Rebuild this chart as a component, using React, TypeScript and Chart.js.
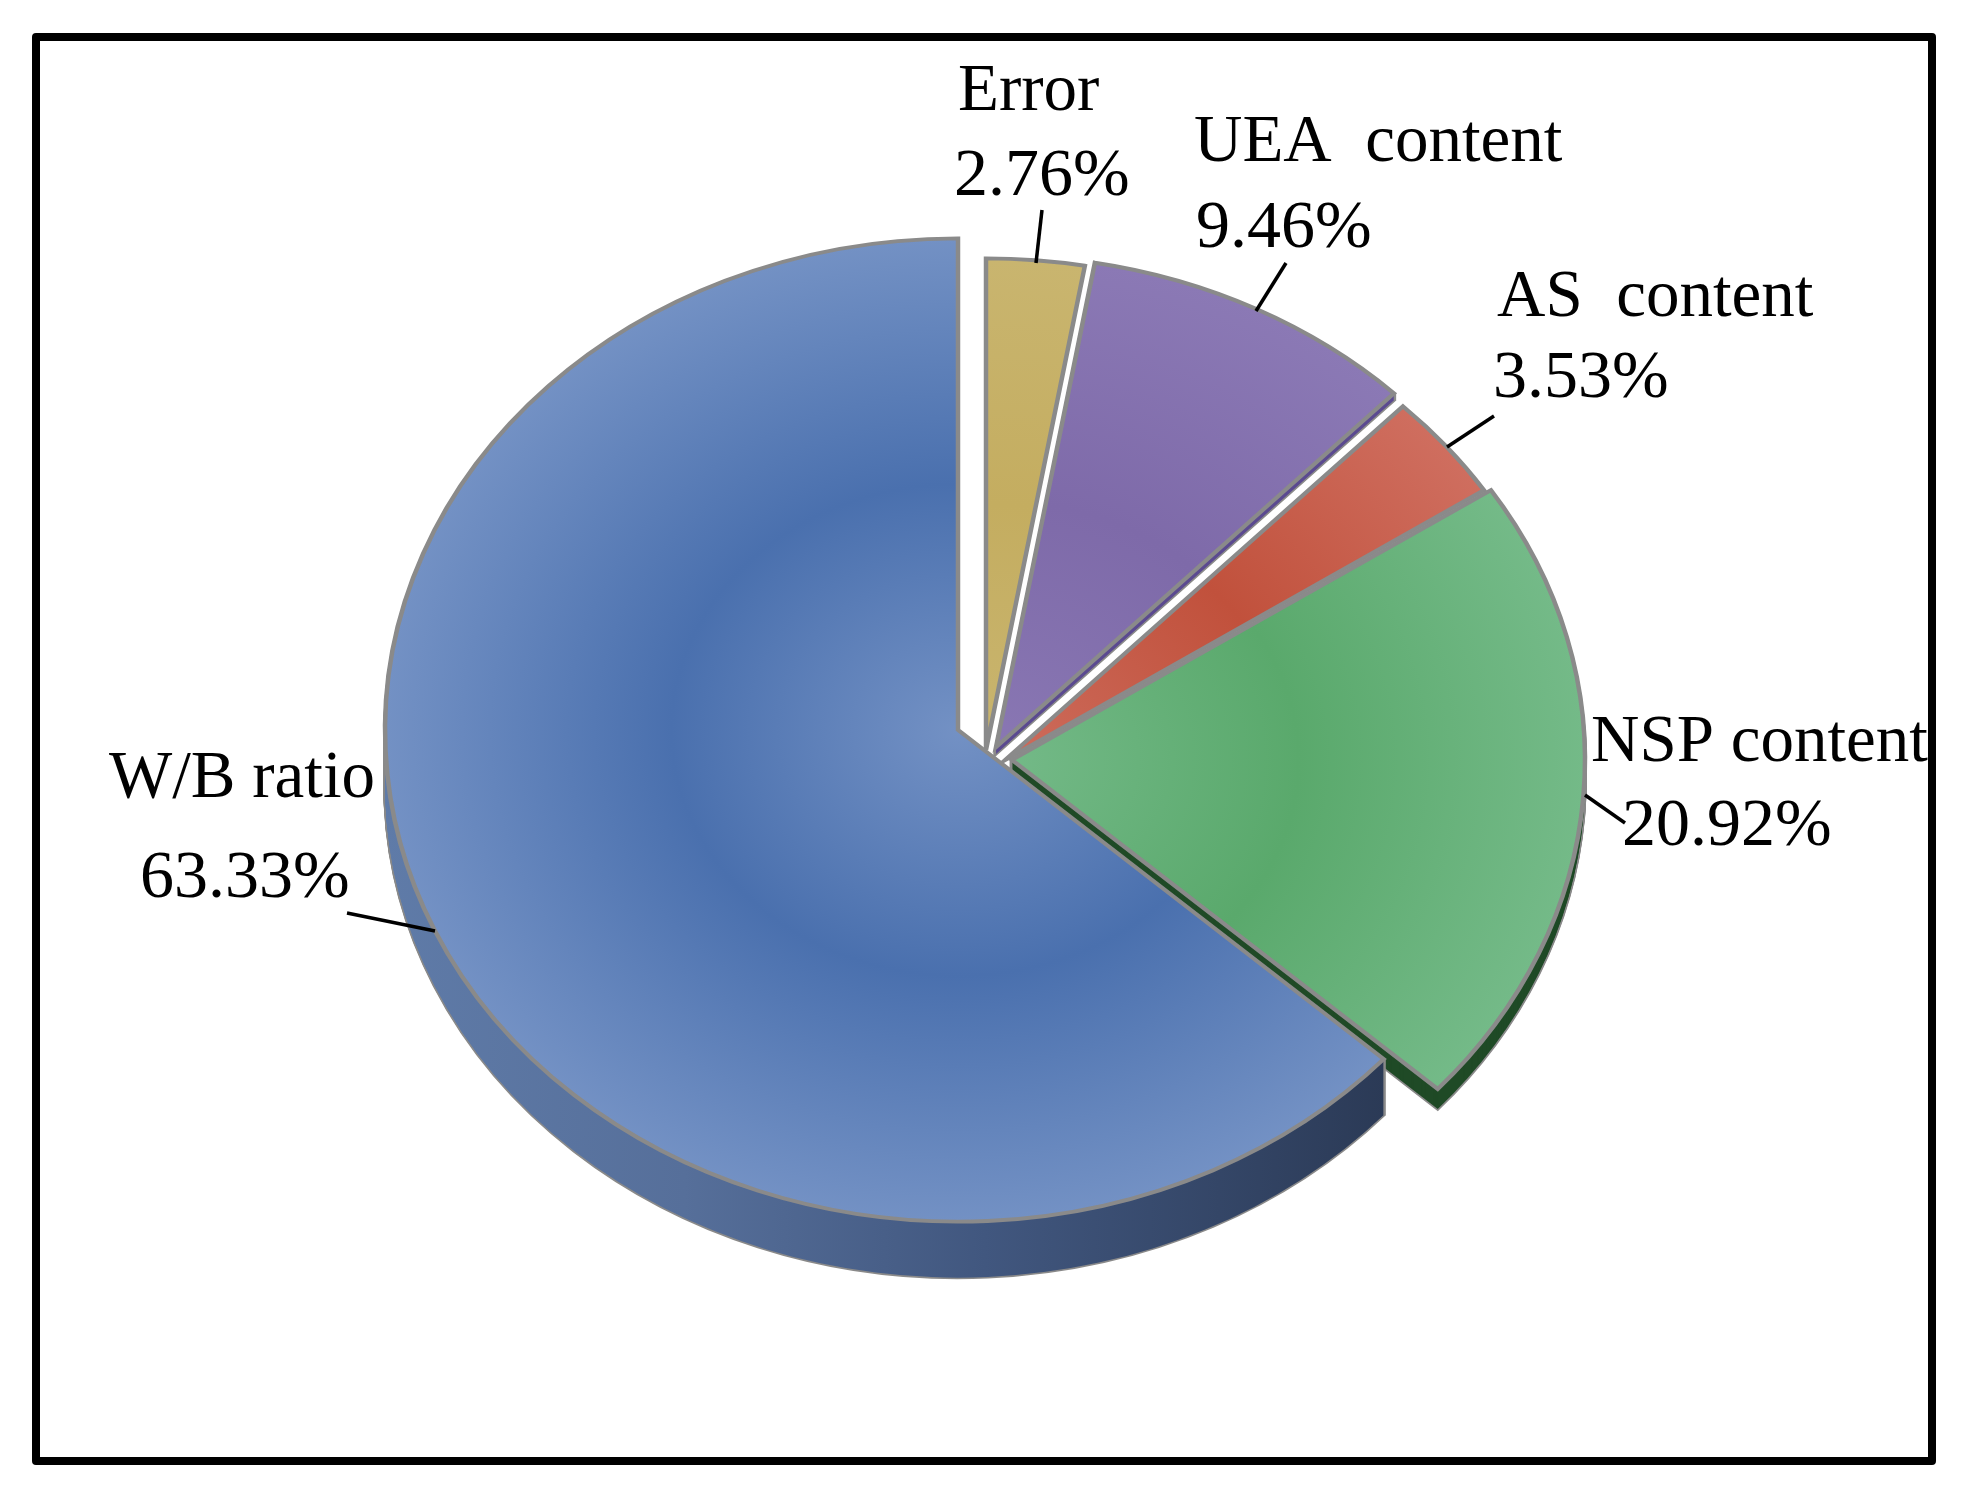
import React, { useEffect, useRef } from "react";
import { Chart, registerables } from "chart.js";

Chart.register(...registerables);

// Data (clockwise from 12 o'clock)
const categories = ["Error", "UEA  content", "AS  content", "NSP content", "W/B ratio"];
const percents = [2.76, 9.46, 3.53, 20.92, 63.33];

// Look of the tilted, exploded pie
const WIDTH = 1964;
const HEIGHT = 1499;
const RADIUS = 573;
const TILT = 0.858;
const apexX = [986, 996, 1005, 1012, 958];
const apexY = [750, 747, 760, 760, 730];
const depths = [0, 7, 0, 20, 56];
const sideColors = ["#9a8748", "#5b4a90", "#8e3a2c", "#1f4a26", "#41577f"];
const gradientStops = [
  ["#c9b56f", "#c4ad60", "#c9b56f"],
  ["#8977b3", "#7e6aa9", "#8b79b5"],
  ["#cd6c5c", "#c1513c", "#cf6e5f"],
  ["#73b987", "#5aa96c", "#74ba88"],
  ["#7391c4", "#4a70ae", "#7391c4"],
];
const BORDER = "#8a8a8a";

// Labels: [name x, name baseline, value x, value baseline]
const labelPlaces = [
  [958, 110, 954, 195],
  [1194, 161, 1196, 247],
  [1497, 316, 1493, 397],
  [1591, 761, 1622, 845],
  [109, 797, 140, 897],
];
const leaders = [
  [1042, 210, 1036, 263],
  [1286, 263, 1256, 311],
  [1494, 416, 1447, 447],
  [1585, 795, 1625, 823],
  [347, 913, 435, 931],
];

const placeArcs = (chart: any) => {
  const meta = chart.getDatasetMeta(0);
  meta.data.forEach((arc: any, i: number) => {
    arc.x = apexX[i];
    arc.y = apexY[i] / TILT;
    arc.outerRadius = RADIUS;
    arc.innerRadius = 0;
  });
  return meta;
};

const sideGradient = (ctx: CanvasRenderingContext2D, i: number) => {
  if (i !== 4) return sideColors[i];
  const g = ctx.createLinearGradient(384, 0, 1385, 0);
  g.addColorStop(0, "#5f7ba8");
  g.addColorStop(0.3, "#566f9a");
  g.addColorStop(0.6, "#41577f");
  g.addColorStop(1, "#2b3a56");
  return g;
};

const pie3d = {
  id: "pie3d",
  beforeDraw(chart: any) {
    const { ctx } = chart;
    ctx.save();
    ctx.fillStyle = "#ffffff";
    ctx.fillRect(0, 0, WIDTH, HEIGHT);
    ctx.restore();
  },
  beforeDatasetsDraw(chart: any) {
    const { ctx } = chart;
    const meta = placeArcs(chart);
    ctx.save();
    ctx.scale(1, TILT);
    meta.data.forEach((arc: any, i: number) => {
      const depth = depths[i];
      if (!depth) return;
      const base = arc.options;
      const side = sideGradient(ctx, i);
      const edged = Object.create(base);
      edged.backgroundColor = side;
      edged.borderColor = BORDER;
      edged.borderWidth = 3.5;
      const plain = Object.create(base);
      plain.backgroundColor = side;
      plain.borderColor = side;
      plain.borderWidth = 0;
      [edged, plain].forEach((opts) => {
        arc.options = opts;
        for (let k = depth; k >= 1; k--) {
          ctx.save();
          ctx.translate(0, k / TILT);
          arc.draw(ctx);
          ctx.restore();
        }
      });
      arc.options = base;
    });
    // the library draws the slice tops under this same squeeze
  },
  afterDatasetsDraw(chart: any) {
    const { ctx } = chart;
    ctx.restore();
    ctx.save();
    ctx.strokeStyle = "#000000";
    ctx.lineWidth = 3.5;
    leaders.forEach(([x1, y1, x2, y2]) => {
      ctx.beginPath();
      ctx.moveTo(x1, y1);
      ctx.lineTo(x2, y2);
      ctx.stroke();
    });
    ctx.fillStyle = "#000000";
    ctx.textAlign = "left";
    ctx.textBaseline = "alphabetic";
    categories.forEach((name, i) => {
      const [nx, ny, vx, vy] = labelPlaces[i];
      ctx.font = '67px "Liberation Serif"';
      ctx.fillText(name, nx, ny);
      ctx.font = '68px "Liberation Serif"';
      ctx.fillText(`${percents[i].toFixed(2)}%`, vx, vy);
    });
    ctx.strokeStyle = "#000000";
    ctx.lineWidth = 8;
    ctx.lineJoin = "round";
    ctx.strokeRect(36, 37, 1896, 1424);
    ctx.restore();
  },
};

export default function App() {
  const ref = useRef<HTMLCanvasElement>(null);
  useEffect(() => {
    const canvas = ref.current!;
    const ctx = canvas.getContext("2d")!;
    const fills = gradientStops.map((stops, i) => {
      const cx = apexX[i];
      const cy = apexY[i] / TILT;
      const g = ctx.createRadialGradient(cx, cy, 0, cx, cy, RADIUS);
      g.addColorStop(0, stops[0]);
      g.addColorStop(0.5, stops[1]);
      g.addColorStop(1, stops[2]);
      return g;
    });
    const chart = new Chart(canvas, {
      type: "pie",
      data: {
        labels: categories,
        datasets: [
          {
            data: percents,
            backgroundColor: fills as any,
            borderColor: BORDER,
            borderWidth: 4.5,
            borderJoinStyle: "miter",
            clip: false,
          } as any,
        ],
      },
      options: {
        responsive: false,
        animation: false,
        devicePixelRatio: 1,
        rotation: 0,
        radius: RADIUS,
        layout: { padding: 0 },
        events: [],
        plugins: { legend: { display: false }, tooltip: { enabled: false }, title: { display: false } },
      } as any,
      plugins: [pie3d as any],
    });
    return () => chart.destroy();
  }, []);
  return (
    <canvas
      ref={ref}
      width={WIDTH}
      height={HEIGHT}
      style={{ position: "absolute", left: 0, top: 0, display: "block" }}
    />
  );
}
